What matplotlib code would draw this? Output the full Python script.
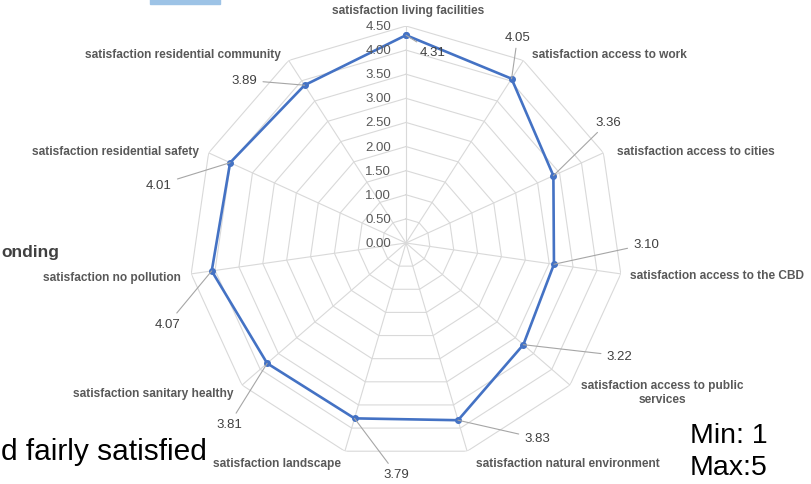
import numpy as np
import matplotlib
matplotlib.use('Agg')
import matplotlib.pyplot as plt
from matplotlib.patches import Rectangle

categories = ['satisfaction living facilities', 'satisfaction access to work',
              'satisfaction access to cities', 'satisfaction access to the CBD',
              'satisfaction access to public\nservices', 'satisfaction natural environment',
              'satisfaction landscape', 'satisfaction sanitary healthy',
              'satisfaction no pollution', 'satisfaction residential safety',
              'satisfaction residential community']
values = [4.31, 4.05, 3.36, 3.10, 3.22, 3.83, 3.79, 3.81, 4.07, 4.01, 3.89]
levels = [0.0, 0.5, 1.0, 1.5, 2.0, 2.5, 3.0, 3.5, 4.0, 4.5]

# label placement (pixels)
value_offsets = [(27, -17), (6, 42), (55, 54), (92, 20), (96, -11), (79, -18),
                 (42, -56), (-38, -61), (-44, -53), (-71, -22), (-60, 5)]
cat_pos = [(408, 11, 'center'), (609, 55, 'center'), (696, 152, 'center'),
           (630, 276, 'left'), (662, 393, 'center'), (568, 464, 'center'),
           (277, 464, 'center'), (153, 394, 'center'), (112, 278, 'center'),
           (116, 152, 'center'), (183, 55, 'center')]

W, H = 812, 485
LINE = '#4472C4'
GRID = '#d9d9d9'
TXT = '#595959'
plt.rcParams['font.family'] = ['Liberation Sans', 'DejaVu Sans']

fig = plt.figure(figsize=(W / 100, H / 100), dpi=100)
cx, cy, R = 406, 244, 217
ax = fig.add_axes([(cx - R) / W, (H - cy - R) / H, 2 * R / W, 2 * R / H], projection='polar')
ax.set_theta_zero_location('N')
ax.set_theta_direction(-1)
ax.set_ylim(0, 4.5)
ax.grid(False)
ax.spines['polar'].set_visible(False)
ax.set_xticks([])
ax.set_yticks([])
ax.patch.set_alpha(0)

n = len(categories)
theta = np.linspace(0, 2 * np.pi, n, endpoint=False)
closed = np.append(theta, theta[0])

for lv in levels[1:]:
    ax.plot(closed, [lv] * (n + 1), color=GRID, lw=0.8, zorder=1)
for t in theta:
    ax.plot([t, t], [0, levels[-1]], color=GRID, lw=0.8, zorder=1)

ax.plot(closed, values + values[:1], color=LINE, lw=1.9, marker='o', ms=4, zorder=3)

for lv in levels:
    ax.annotate(f'{lv:.2f}', xy=(0, lv), xytext=(-15, 0), textcoords='offset pixels',
                ha='right', va='center', fontsize=9.5, color=TXT, zorder=4)

for t, v, off in zip(theta, values, value_offsets):
    ax.annotate(f'{v:.2f}', xy=(t, v), xytext=off, textcoords='offset pixels',
                ha='center', va='center', fontsize=9.5, color='#404040',
                arrowprops=dict(arrowstyle='-', color='#a6a6a6', lw=0.8,
                                shrinkA=2, shrinkB=0), zorder=4)

for name, (px, py, ha) in zip(categories, cat_pos):
    fig.text(px / W, 1 - py / H, name, ha=ha, va='center', fontsize=8.6,
             color=TXT, fontweight='bold', linespacing=1.15)

# surrounding slide fragments
fig.patches.append(Rectangle((150 / W, 1 - 5 / H), 70 / W, 5 / H, transform=fig.transFigure,
                             color='#9dc3e6', zorder=0))
fig.text(1 / W, 1 - 252 / H, 'onding', ha='left', va='center', fontsize=12.5,
         color='#404040', fontweight='bold')
fig.text(1 / W, 1 - 452 / H, 'd fairly satisfied', ha='left', va='center',
         fontsize=21.5, color='black')
fig.text(690 / W, 1 - 436 / H, 'Min: 1', ha='left', va='center', fontsize=20.5, color='black')
fig.text(690 / W, 1 - 468 / H, 'Max:5', ha='left', va='center', fontsize=20.5, color='black')

fig.savefig('out.png', dpi=100)
plt.close(fig)
